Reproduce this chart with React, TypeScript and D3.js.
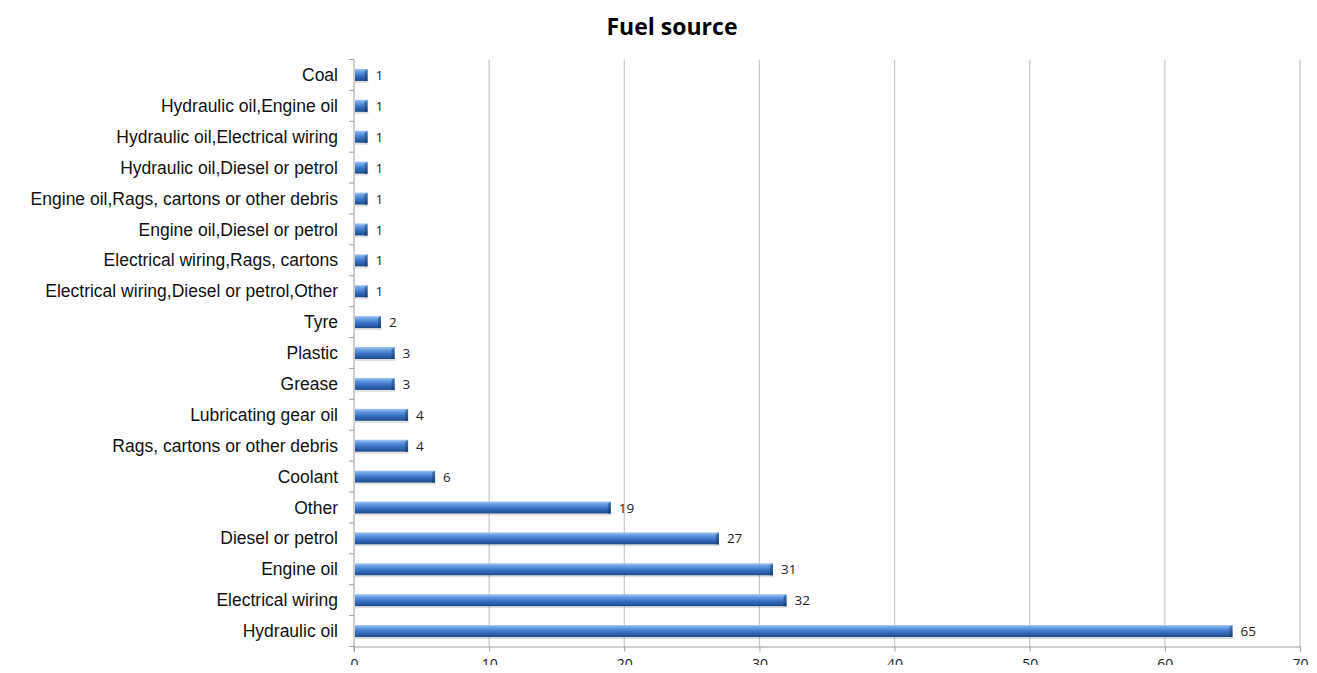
import React, { useEffect, useRef } from 'react';
import * as d3 from 'd3';

const categories = [
  'Coal',
  'Hydraulic oil,Engine oil',
  'Hydraulic oil,Electrical wiring',
  'Hydraulic oil,Diesel or petrol',
  'Engine oil,Rags, cartons or other debris',
  'Engine oil,Diesel or petrol',
  'Electrical wiring,Rags, cartons',
  'Electrical wiring,Diesel or petrol,Other',
  'Tyre',
  'Plastic',
  'Grease',
  'Lubricating gear oil',
  'Rags, cartons or other debris',
  'Coolant',
  'Other',
  'Diesel or petrol',
  'Engine oil',
  'Electrical wiring',
  'Hydraulic oil',
];
const counts = [1, 1, 1, 1, 1, 1, 1, 1, 2, 3, 3, 4, 4, 6, 19, 27, 31, 32, 65];
const xTicks = [0, 10, 20, 30, 40, 50, 60, 70];

const width = 1317;
const height = 673;

export default function App() {
  const svgRef = useRef<SVGSVGElement>(null);

  useEffect(() => {
    const svg = d3.select(svgRef.current);
    svg.selectAll('*').remove();

    const left = 354;
    const right = 1300;
    const top = 59.5;
    const bottom = 646.5;

    const x = d3.scaleLinear().domain([0, 70]).range([left, right]);
    const y = d3.scaleBand().domain(categories).range([top, bottom]);

    // bar gradients
    const defs = svg.append('defs');
    const grad = defs.append('linearGradient')
      .attr('id', 'barGrad')
      .attr('x1', 0).attr('y1', 0).attr('x2', 0).attr('y2', 1);
    grad.append('stop').attr('offset', '0%').attr('stop-color', '#a6c8f2');
    grad.append('stop').attr('offset', '22%').attr('stop-color', '#6a9fe2');
    grad.append('stop').attr('offset', '55%').attr('stop-color', '#3a74c6');
    grad.append('stop').attr('offset', '100%').attr('stop-color', '#1d4a8a');

    const endGrad = defs.append('linearGradient')
      .attr('id', 'endGrad')
      .attr('x1', 0).attr('y1', 0).attr('x2', 0).attr('y2', 1);
    endGrad.append('stop').attr('offset', '0%').attr('stop-color', '#4a7dc0');
    endGrad.append('stop').attr('offset', '100%').attr('stop-color', '#173c74');

    // title
    svg.append('text')
      .attr('x', 672)
      .attr('y', 35)
      .attr('text-anchor', 'middle')
      .attr('font-family', '"Open Sans", sans-serif')
      .attr('font-weight', 'bold')
      .attr('font-size', 23)
      .attr('fill', '#000')
      .text('Fuel source');

    // gridlines
    svg.append('g')
      .selectAll('line')
      .data(xTicks.filter(d => d > 0))
      .join('line')
      .attr('x1', d => x(d)).attr('x2', d => x(d))
      .attr('y1', top).attr('y2', bottom)
      .attr('stroke', '#c8c8c8')
      .attr('stroke-width', 1.2);

    // x axis
    const xAxis = svg.append('g')
      .attr('transform', `translate(0,${bottom})`)
      .call(d3.axisBottom(x).tickValues(xTicks).tickSize(5).tickPadding(8))
      .attr('font-family', '"Open Sans", sans-serif')
      .attr('font-size', 14);
    xAxis.select('.domain').attr('stroke', '#a0a0a0');
    xAxis.selectAll('.tick line').attr('stroke', '#a0a0a0');
    xAxis.selectAll('.tick text').attr('fill', '#222');

    // y axis line + ticks at band boundaries
    const yG = svg.append('g');
    yG.append('line')
      .attr('x1', left).attr('x2', left)
      .attr('y1', top).attr('y2', bottom + 5)
      .attr('stroke', '#a0a0a0');
    const bounds = d3.range(categories.length + 1).map(i => top + i * y.step());
    yG.selectAll('line.tk')
      .data(bounds)
      .join('line')
      .attr('class', 'tk')
      .attr('x1', left - 5).attr('x2', left)
      .attr('y1', d => d).attr('y2', d => d)
      .attr('stroke', '#a0a0a0');

    // category labels
    svg.append('g')
      .selectAll('text')
      .data(categories)
      .join('text')
      .attr('x', left - 16)
      .attr('y', d => (y(d) as number) + y.bandwidth() / 2)
      .attr('dy', '0.35em')
      .attr('text-anchor', 'end')
      .attr('font-family', '"Liberation Sans", Arial, sans-serif')
      .attr('font-size', 17.5)
      .attr('fill', '#111')
      .text(d => d);

    const barH = 12;
    const data = categories.map((c, i) => ({ c, v: counts[i] }));
    const bars = svg.append('g');

    // shadow
    bars.selectAll('rect.shadow')
      .data(data)
      .join('rect')
      .attr('class', 'shadow')
      .attr('x', left + 1)
      .attr('y', d => (y(d.c) as number) + y.bandwidth() / 2 - barH / 2 + barH)
      .attr('width', d => x(d.v) - left)
      .attr('height', 2)
      .attr('fill', '#000')
      .attr('opacity', 0.12);

    // main bar
    bars.selectAll('rect.bar')
      .data(data)
      .join('rect')
      .attr('class', 'bar')
      .attr('x', left + 1)
      .attr('y', d => (y(d.c) as number) + y.bandwidth() / 2 - barH / 2)
      .attr('width', d => x(d.v) - left - 1)
      .attr('height', barH)
      .attr('fill', 'url(#barGrad)');

    // end cap
    bars.selectAll('path.cap')
      .data(data)
      .join('path')
      .attr('class', 'cap')
      .attr('d', d => {
        const yc = (y(d.c) as number) + y.bandwidth() / 2 - barH / 2;
        const xe = x(d.v);
        return `M${xe - 3},${yc + 2}L${xe},${yc}L${xe},${yc + barH}L${xe - 3},${yc + barH}Z`;
      })
      .attr('fill', 'url(#endGrad)');

    // value labels
    bars.selectAll('text.val')
      .data(data)
      .join('text')
      .attr('class', 'val')
      .attr('x', d => x(d.v) + 8)
      .attr('y', d => (y(d.c) as number) + y.bandwidth() / 2)
      .attr('dy', '0.38em')
      .attr('font-family', '"Open Sans", sans-serif')
      .attr('font-size', 13.5)
      .attr('fill', '#222')
      .text(d => d.v);
  }, []);

  return <svg ref={svgRef} width={width} height={height} style={{ display: 'block', margin: -8 }} />;
}
